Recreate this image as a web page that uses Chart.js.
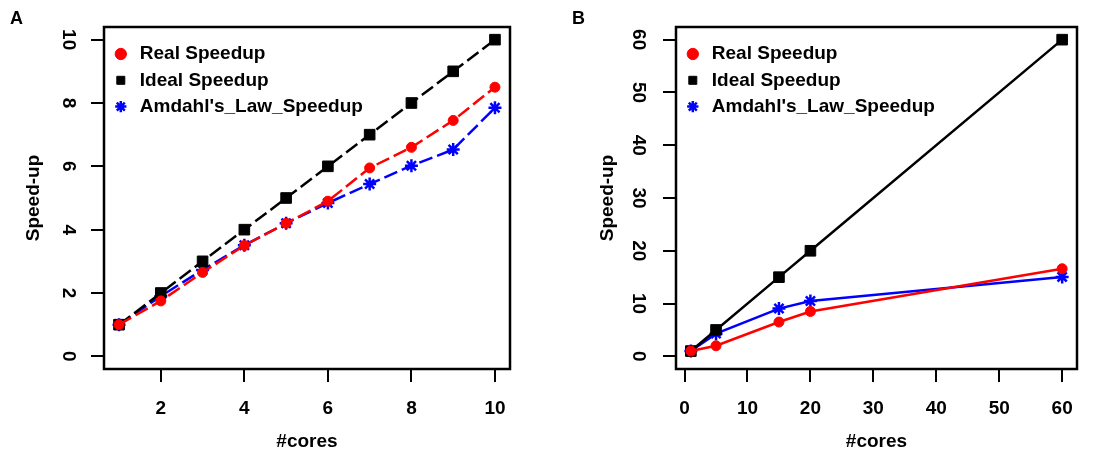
<!DOCTYPE html>
<html>
<head>
<meta charset="utf-8">
<script src="https://cdn.jsdelivr.net/npm/chart.js@4/dist/chart.umd.min.js"></script>
<style>
  body { margin: 0; background: #fff; }
  .panel { position: absolute; top: 0; width: 547px; height: 454px; }
  .tag { position: absolute; top: 8px; font: bold 18px "Liberation Sans", Arial, sans-serif; }
</style>
</head>
<body>
<div class="panel" style="left:0"><canvas id="chartA"></canvas></div>
<div class="panel" style="left:547px"><canvas id="chartB"></canvas></div>
<div class="tag" style="left:10px">A</div>
<div class="tag" style="left:572px">B</div>
<script>
// panel A data
const coresA = [1, 2, 3, 4, 5, 6, 7, 8, 9, 10];
const realA = [1, 1.75, 2.65, 3.5, 4.2, 4.9, 5.95, 6.6, 7.45, 8.5];
const idealA = [1, 2, 3, 4, 5, 6, 7, 8, 9, 10];
const amdahlA = [1, 1.9, 2.73, 3.51, 4.2, 4.84, 5.44, 6.02, 6.53, 7.85];
const xTicksA = [2, 4, 6, 8, 10];
const yTicksA = [0, 2, 4, 6, 8, 10];

// panel B data
const coresB = [1, 5, 15, 20, 60];
const realB = [1, 2, 6.5, 8.5, 16.6];
const idealB = [1, 5, 15, 20, 60];
const amdahlB = [1, 4.3, 9.05, 10.5, 15.05];
const xTicksB = [0, 10, 20, 30, 40, 50, 60];
const yTicksB = [0, 10, 20, 30, 40, 50, 60];

const labels = ['Real Speedup', 'Ideal Speedup', "Amdahl's_Law_Speedup"];

Chart.defaults.font.family = '"Liberation Sans", Arial, sans-serif';
Chart.defaults.font.size = 19;
Chart.defaults.font.weight = 'bold';
Chart.defaults.color = '#000';

// box round the plot area, like R's bty="o"
const boxPlugin = {
    id: 'box',
    afterDatasetsDraw(chart) {
        const a = chart.chartArea;
        const ctx = chart.ctx;
        ctx.save();
        ctx.strokeStyle = '#000';
        ctx.lineWidth = 2.5;
        ctx.strokeRect(a.left, a.top, a.right - a.left, a.bottom - a.top);
        ctx.restore();
    }
};

function series(xs, ys) {
    return xs.map((x, i) => ({ x: x, y: ys[i] }));
}

function makeChart(el, cores, real, ideal, amdahl, xTicks, yTicks, xr, yr, axisW, rightPad, tickPad, titlePad, dash) {
    return new Chart(el, {
        type: 'line',
        data: {
            datasets: [{
                label: labels[0],
                data: series(cores, real),
                borderColor: '#ff0000',
                backgroundColor: '#ff0000',
                pointStyle: 'circle',
                pointRadius: 5,
                pointBorderWidth: 1,
                borderWidth: 2.5,
                borderDash: dash
            }, {
                label: labels[1],
                data: series(cores, ideal),
                borderColor: '#000000',
                backgroundColor: '#000000',
                pointStyle: 'rect',
                pointRadius: 7.5,
                pointBorderWidth: 1,
                borderWidth: 2.5,
                borderDash: dash
            }, {
                label: labels[2],
                data: series(cores, amdahl),
                borderColor: '#0000ff',
                backgroundColor: '#0000ff',
                pointStyle: 'star',
                pointRadius: 6.5,
                pointBorderWidth: 2.5,
                borderWidth: 2.5,
                borderDash: dash
            }]
        },
        options: {
            responsive: true,
            maintainAspectRatio: false,
            animation: false,
            layout: { padding: { top: 27, right: rightPad, left: 0, bottom: 0 } },
            plugins: {
                tooltip: { enabled: false },
                legend: {
                    position: 'chartArea',
                    align: 'start',
                    // spacer so the first row sits where R put it
                    title: { display: true, text: ' ', font: { size: 1 }, padding: { top: 36, bottom: 0 } },
                    labels: {
                        usePointStyle: true,
                        boxHeight: 8,
                        padding: 7.3,
                        font: { size: 19 }
                    }
                }
            },
            scales: {
                x: {
                    type: 'linear',
                    min: xr[0],
                    max: xr[1],
                    afterBuildTicks: (s) => { s.ticks = xTicks.map(v => ({ value: v })); },
                    afterFit: (s) => { s.height = 85; },
                    grid: { drawOnChartArea: false, tickLength: 13, color: '#000', lineWidth: 2 },
                    border: { display: false },
                    ticks: { padding: 15, maxRotation: 0 },
                    title: { display: true, text: '#cores', padding: { top: 0, bottom: 1 } }
                },
                y: {
                    type: 'linear',
                    min: yr[0],
                    max: yr[1],
                    afterBuildTicks: (s) => { s.ticks = yTicks.map(v => ({ value: v })); },
                    afterFit: (s) => { s.width = axisW; },
                    grid: { drawOnChartArea: false, tickLength: 13, color: '#000', lineWidth: 2 },
                    border: { display: false },
                    ticks: { padding: tickPad, minRotation: -90, maxRotation: -90, crossAlign: 'center' },
                    title: { display: true, text: 'Speed-up', padding: { top: titlePad, bottom: 0 } }
                }
            }
        },
        plugins: [boxPlugin]
    });
}

makeChart(document.getElementById('chartA'), coresA, realA, idealA, amdahlA,
    xTicksA, yTicksA, [0.64, 10.36], [-0.4, 10.4], 104, 37, 12, 22.6, [14, 5]);
makeChart(document.getElementById('chartB'), coresB, realB, idealB, amdahlB,
    xTicksB, yTicksB, [-1.36, 62.36], [-2.4, 62.4], 129, 17, 14, 49, []);
</script>
</body>
</html>
